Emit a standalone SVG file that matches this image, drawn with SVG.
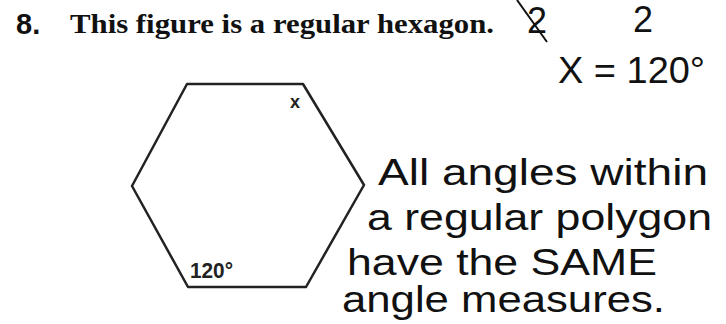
<svg xmlns="http://www.w3.org/2000/svg" width="726" height="324" viewBox="0 0 726 324">
<style>
.title{font-family:"Liberation Serif",serif;font-weight:bold;font-size:28px;fill:#111}
.num{font-family:"Liberation Sans",sans-serif;font-weight:bold;font-size:29px;fill:#111}
.lbl{font-family:"Liberation Sans",sans-serif;font-weight:bold;fill:#222}
.hand{font-family:"Liberation Sans",sans-serif;font-size:36px;fill:#111}
.shape{fill:none;stroke:#222;stroke-width:2.5;stroke-linejoin:round}
</style>
<rect width="726" height="324" fill="#fff"/>
<g id="title">
<text class="num" x="16" y="34">8.</text>
<text class="title" x="70" y="33" textLength="424" lengthAdjust="spacingAndGlyphs">This figure is a regular hexagon.</text>
</g>
<g id="hexagon">
<polygon class="shape" points="187,84 303,84 364,185 306,287 188,287 132,186"/>
<text class="lbl" x="295" y="108" font-size="18" text-anchor="middle">x</text>
<text class="lbl" x="190" y="278" font-size="22" textLength="43" lengthAdjust="spacingAndGlyphs">120°</text>
</g>
<g id="work">
<text class="hand" x="527" y="33" font-size="30">2</text>
<line x1="517" y1="0" x2="547" y2="42" stroke="#111" stroke-width="2"/>
<text class="hand" x="633" y="32" font-size="30">2</text>
<text class="hand" x="558" y="83" font-size="39" textLength="147" lengthAdjust="spacingAndGlyphs">X = 120°</text>
</g>
<g id="note">
<text class="hand" x="378" y="185" textLength="330" lengthAdjust="spacingAndGlyphs">All angles within</text>
<text class="hand" x="367" y="230" textLength="345" lengthAdjust="spacingAndGlyphs">a regular polygon</text>
<text class="hand" x="347" y="275" textLength="310" lengthAdjust="spacingAndGlyphs">have the SAME</text>
<text class="hand" x="342" y="312" textLength="323" lengthAdjust="spacingAndGlyphs">angle measures.</text>
</g>
</svg>
